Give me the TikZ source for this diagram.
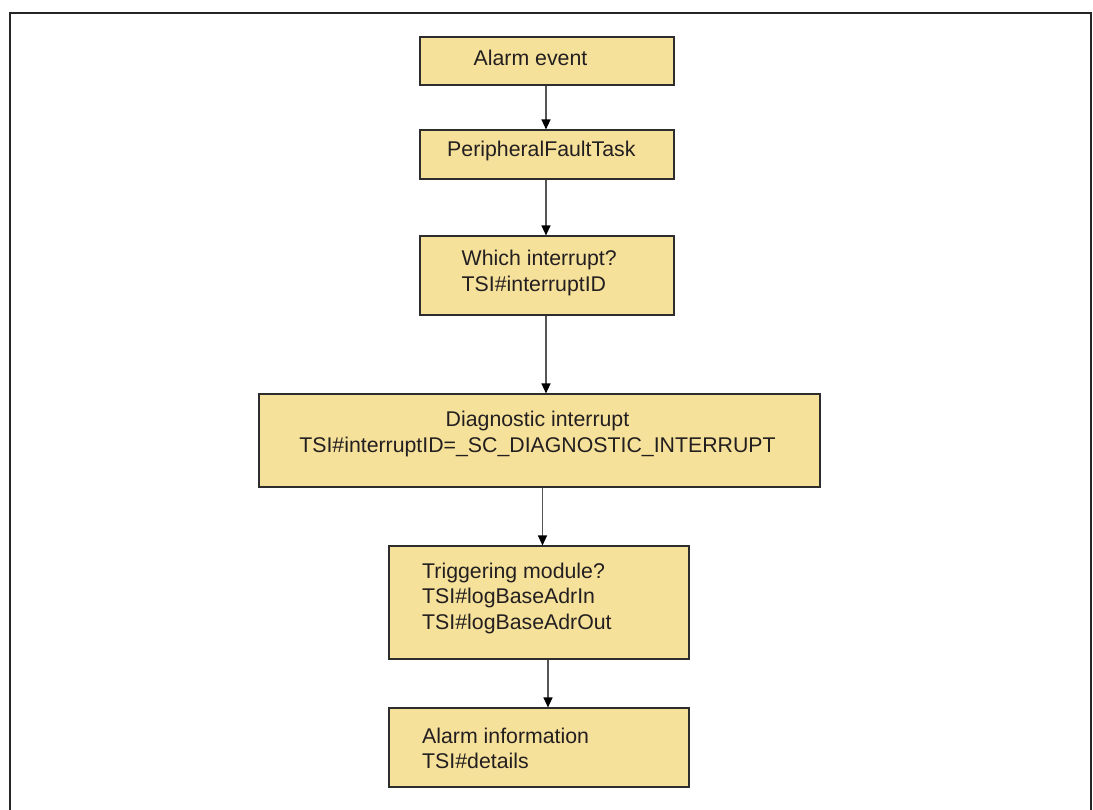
\documentclass[tikz,border=0pt]{standalone}
\usepackage{fontspec}
\setmainfont{Liberation Sans}
\usetikzlibrary{arrows.meta}
\definecolor{boxfill}{RGB}{246,225,154}
\definecolor{boxline}{RGB}{45,45,45}
\definecolor{flowline}{RGB}{85,85,85}
\definecolor{ink}{RGB}{35,31,32}
\begin{document}
\begin{tikzpicture}[x=1pt,y=-1pt,
  stepbox/.style={draw=boxline,fill=boxfill,line width=1.1pt,rectangle,inner sep=0pt},
  label text/.style={text=ink,inner sep=0pt,anchor=base west,align=left,
    font=\fontsize{21.3}{25.5}\selectfont},
  flow/.style={draw=flowline,line width=1.2pt,-{Triangle[length=10pt,width=9pt,fill=black,color=black]}}]
\useasboundingbox (0,0) rectangle (1093,810);
% outer frame, open at the bottom
\draw[line width=2pt,color=black!85] (10,810) -- (10,13) -- (1091,13) -- (1091,810);
% process boxes
\node[stepbox,minimum width=254pt,minimum height=48pt] (b1) at (547,61) {};
\node[stepbox,minimum width=254pt,minimum height=49pt] (b2) at (547,154.5) {};
\node[stepbox,minimum width=254pt,minimum height=79pt] (b3) at (547,275.5) {};
\node[stepbox,minimum width=561pt,minimum height=93pt] (b4) at (539.5,440.5) {};
\node[stepbox,minimum width=300pt,minimum height=113pt] (b5) at (539,602.5) {};
\node[stepbox,minimum width=300pt,minimum height=79pt] (b6) at (539,747.5) {};
% box texts (multi-line texts are placed by the baseline of their last line)
\node[label text] (t1) at (473.5,66) {Alarm event};
\node[label text] (t2) at (447,157) {PeripheralFaultTask};
\node[label text] (t3) at (461.5,291.5) {Which interrupt?\\TSI\#interruptID};
\node[label text,anchor=base,align=center] (t4) at (537.5,452.5) {Diagnostic interrupt\\TSI\#interruptID=\_SC\_DIAGNOSTIC\_INTERRUPT};
\node[label text] (t5) at (422,629) {Triggering module?\\TSI\#logBaseAdrIn\\TSI\#logBaseAdrOut};
\node[label text] (t6) at (422,768.5) {Alarm information\\TSI\#details};
% connectors
\draw[flow] ([xshift=-1pt]b1.south) -- ([xshift=-1pt]b2.north);
\draw[flow] ([xshift=-1pt]b2.south) -- ([xshift=-1pt]b3.north);
\draw[flow] ([xshift=-1pt]b3.south) -- ([xshift=-1pt]b3.south |- b4.north);
\draw[flow] ([xshift=3pt]b4.south) -- ([xshift=3pt]b4.south |- b5.north);
\draw[flow] ([xshift=9pt]b5.south) -- ([xshift=9pt]b5.south |- b6.north);
\end{tikzpicture}
\end{document}
